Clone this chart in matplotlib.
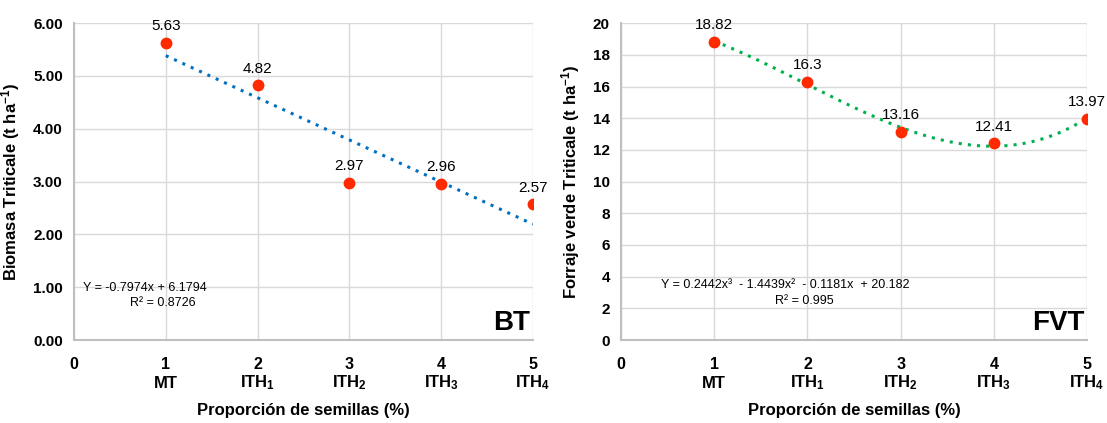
import numpy as np
import matplotlib
matplotlib.use("Agg")
import matplotlib.pyplot as plt
from matplotlib.ticker import FormatStrFormatter
from matplotlib.transforms import blended_transform_factory

plt.rcParams['font.family'] = ['Liberation Sans Narrow', 'Liberation Sans', 'DejaVu Sans']
plt.rcParams['mathtext.fontset'] = 'custom'
plt.rcParams['mathtext.rm'] = 'Liberation Sans:bold'
plt.rcParams['mathtext.bf'] = 'Liberation Sans:bold'
plt.rcParams['mathtext.it'] = 'Liberation Sans:bold'

# data
x = [1, 2, 3, 4, 5]
categories = ['MT', 'ITH$_1$', 'ITH$_2$', 'ITH$_3$', 'ITH$_4$']
bt = [5.63, 4.82, 2.97, 2.96, 2.57]
fvt = [18.82, 16.3, 13.16, 12.41, 13.97]
bt_labels = ['5.63', '4.82', '2.97', '2.96', '2.57']
fvt_labels = ['18.82', '16.3', '13.16', '12.41', '13.97']

grid_c = '#d9d9d9'
spine_c = '#bfbfbf'
point_c = '#ff2a00'

fig = plt.figure(figsize=(11.07, 4.23), dpi=100)
ax1 = fig.add_axes([0.0668, 0.1962, 0.4146, 0.749])
ax2 = fig.add_axes([0.561, 0.1962, 0.421, 0.749])


def style_axis(ax, ymax, ystep):
    ax.set_xlim(0, 5)
    ax.set_ylim(0, ymax)
    ax.set_xticks(range(0, 6))
    ax.set_yticks(np.arange(0, ymax + 0.001, ystep))
    ax.tick_params(axis='x', length=0, pad=12, labelsize=11.5)
    ax.tick_params(axis='y', length=0, pad=8, labelsize=11)
    for lab in ax.get_xticklabels() + ax.get_yticklabels():
        lab.set_fontweight('bold')
    # category names under the numbers, then the axis title
    tr = blended_transform_factory(ax.transData, ax.transAxes)
    for xi, c in zip(x, categories):
        ax.text(xi, -0.136, c, transform=tr, ha='center', va='center',
                fontsize=12, fontweight='bold')
    ax.text(0.5, -0.224, 'Proporción de semillas (%)', transform=ax.transAxes,
            ha='center', va='center', fontsize=12, fontweight='bold')
    ax.grid(True, color=grid_c, linewidth=1)
    ax.set_axisbelow(True)
    for s in ['top', 'right']:
        ax.spines[s].set_visible(False)
    for s in ['left', 'bottom']:
        ax.spines[s].set_color(spine_c)
        ax.spines[s].set_linewidth(1.5)


# BT panel
style_axis(ax1, 6, 1)
ax1.yaxis.set_major_formatter(FormatStrFormatter('%.2f'))
c1 = np.polyfit(x, bt, 1)
xs = np.linspace(1, 5, 200)
ax1.plot(xs, np.polyval(c1, xs), linestyle=(0, (1, 2)), color='#0070c0', linewidth=2.2)
ax1.plot(x, bt, 'o', color=point_c, markersize=7.5, zorder=5)
for xi, yi, t in zip(x, bt, bt_labels):
    ax1.annotate(t, (xi, yi), xytext=(0, 7), textcoords='offset points',
                 ha='center', va='bottom', fontsize=11)
ax1.text(0.77, 0.98, 'Y = -0.7974x + 6.1794', ha='center', va='center', fontsize=9)
ax1.text(0.97, 0.7, 'R² = 0.8726', ha='center', va='center', fontsize=9)
ax1.text(4.97, 0.08, 'BT', ha='right', va='bottom', fontsize=20, fontweight='bold')
ax1.set_ylabel('Biomasa Triticale (t ha$^{-1}$)', fontsize=12, fontweight='bold', labelpad=8)

# FVT panel
style_axis(ax2, 20, 2)
c2 = np.polyfit(x, fvt, 3)
ax2.plot(xs, np.polyval(c2, xs), linestyle=(0, (1, 2)), color='#00b050', linewidth=2.2)
ax2.plot(x, fvt, 'o', color=point_c, markersize=7.5, zorder=5)
for xi, yi, t in zip(x, fvt, fvt_labels):
    ax2.annotate(t, (xi, yi), xytext=(0, 7), textcoords='offset points',
                 ha='center', va='bottom', fontsize=11)
ax2.text(1.76, 3.47, 'Y = 0.2442x³  - 1.4439x²  - 0.1181x  + 20.182',
         ha='center', va='center', fontsize=9)
ax2.text(1.97, 2.46, 'R² = 0.995', ha='center', va='center', fontsize=9)
ax2.text(4.97, 0.25, 'FVT', ha='right', va='bottom', fontsize=20, fontweight='bold')
ax2.set_ylabel('Forraje verde Triticale (t ha$^{-1}$)', fontsize=12, fontweight='bold', labelpad=8)

fig.savefig('out.png', dpi=100)
